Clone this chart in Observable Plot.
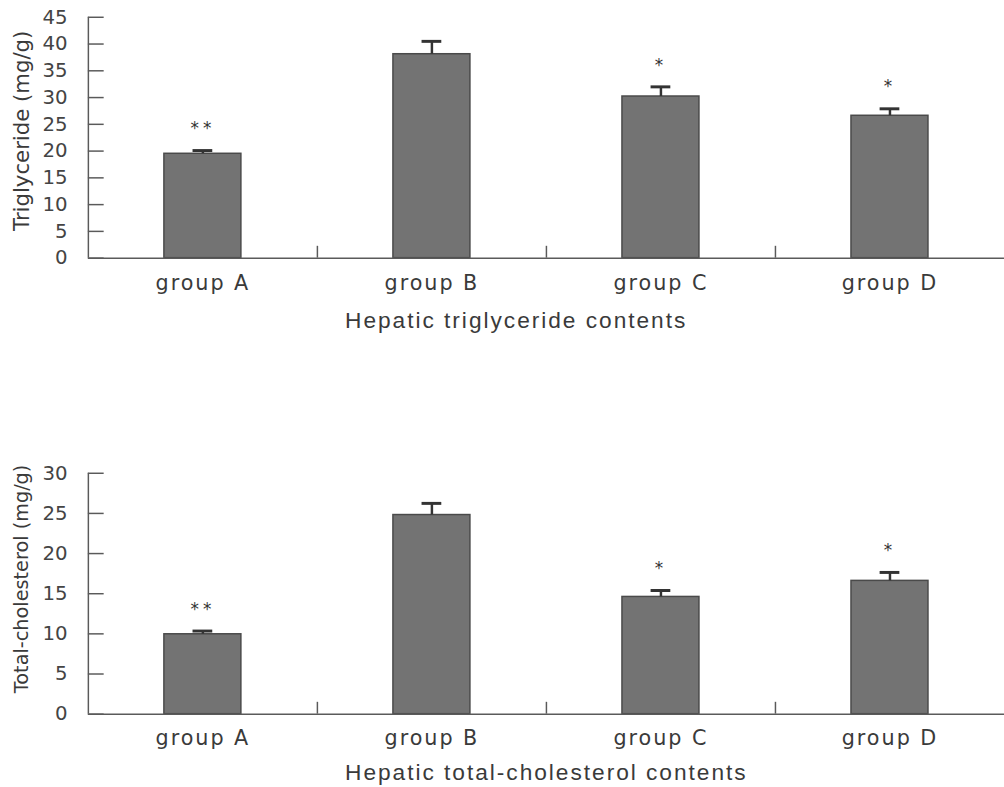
<!DOCTYPE html>
<html>
<head>
<meta charset="utf-8">
<script src="https://cdn.jsdelivr.net/npm/d3@7"></script>
<script src="https://cdn.jsdelivr.net/npm/@observablehq/plot@0.6"></script>
<style>
  html, body { margin: 0; padding: 0; background: #ffffff; overflow: hidden; }
  #wrap { position: relative; width: 1004px; height: 787px; overflow: hidden; }
  .panel { position: absolute; left: 0; }
  .ttl text, text.ttl, .ttl { letter-spacing: 2px; }
  .sig text, text.sig, .sig { letter-spacing: 4px; }
  g[aria-label="x-axis tick label"] text { letter-spacing: 2px; }
</style>
</head>
<body>
<div id="wrap">
  <div class="panel" id="top" style="top:0px"></div>
  <div class="panel" id="bottom" style="top:456px"></div>
</div>
<script>
// ---- data ----
const groups = ["group A", "group B", "group C", "group D"];

const tgMean = [19.5, 38.1, 30.2, 26.6];
const tgErr  = [0.6, 2.4, 1.8, 1.3];
const tgSig  = ["**", "", "*", "*"];
const tgTicks = [0, 5, 10, 15, 20, 25, 30, 35, 40, 45];

const tcMean = [9.95, 24.8, 14.6, 16.6];
const tcErr  = [0.4, 1.45, 0.8, 1.05];
const tcSig  = ["**", "", "*", "*"];
const tcTicks = [0, 5, 10, 15, 20, 25, 30];

const tgYLabel = "Triglyceride (mg/g)";
const tcYLabel = "Total-cholesterol (mg/g)";
const tgTitle = "Hepatic triglyceride contents";
const tcTitle = "Hepatic total-cholesterol contents";

// ---- layout ----
const W = 1017, ML = 89, MR = 0, MT = 17, PH = 244;
const plotW = W - ML - MR;
const step = plotW / groups.length;
const ink = "#3a3a3a", axisInk = "#5a5a5a";

function chart({mean, err, sig, ticks, ylabel, ylabelSize, ylabelDy, title, titleDy, labelPad, height}) {
  const rows = groups.map((g, i) => ({g, m: mean[i], e: err[i], top: mean[i] + err[i], s: sig[i]}));
  const ymax = ticks[ticks.length - 1];
  return Plot.plot({
    width: W, height,
    marginLeft: ML, marginRight: MR, marginTop: MT, marginBottom: height - MT - PH,
    style: {fontFamily: "DejaVu Sans, sans-serif", fontSize: "20px", background: "transparent", color: ink, overflow: "visible"},
    x: {type: "band", domain: groups, paddingInner: 0.664, paddingOuter: 0.332, align: 0.5, label: null},
    y: {domain: [0, ymax], label: null},
    marks: [
      // bars
      Plot.barY(rows, {x: "g", y: "m", fill: "#737373", stroke: "#4a4a4a", strokeWidth: 1.5}),
      // error bars
      Plot.ruleX(rows, {x: "g", y1: "m", y2: "top", stroke: "#333", strokeWidth: 2.5}),
      Plot.tickY(rows, {x: "g", y: "top", stroke: "#333", strokeWidth: 3, insetLeft: 29, insetRight: 29}),
      // significance stars
      Plot.text(rows, {x: "g", y: "top", text: "s", dy: -22, fontSize: 17, fill: "#333", fontFamily: "DejaVu Sans", className: "sig"}),
      // y axis line
      Plot.tickX([groups[0]], {x: d => d, dx: -step / 2, stroke: axisInk, strokeWidth: 1.5}),
      // y ticks (inward)
      Plot.tickY(ticks, {y: d => d, insetRight: plotW - 16, stroke: axisInk, strokeWidth: 1.5}),
      Plot.axisY({ticks, tickSize: 0, tickPadding: 21, fontSize: 20, color: "#444", label: null}),
      // x axis line
      Plot.ruleY([0], {stroke: axisInk, strokeWidth: 1.5}),
      // band boundary ticks
      Plot.tickX(groups.slice(1), {x: d => d, dx: -step / 2, insetTop: PH - 12, stroke: axisInk, strokeWidth: 1.5}),
      Plot.axisX({tickSize: 0, tickPadding: labelPad, fontSize: 21, color: ink, label: null}),
      // y label
      Plot.text([ylabel], {frameAnchor: "left", textAnchor: "middle", lineAnchor: "middle", rotate: -90, dx: -67, dy: ylabelDy, fontSize: ylabelSize, fill: ink}),
      // title
      Plot.text([title], {frameAnchor: "bottom-left", textAnchor: "start", lineAnchor: "middle", dx: 260, dy: titleDy, fontSize: 23, fill: ink, fontFamily: "Liberation Sans, Arial, sans-serif", className: "ttl"})
    ]
  });
}

document.getElementById("top").append(chart({
  mean: tgMean, err: tgErr, sig: tgSig, ticks: tgTicks,
  ylabel: tgYLabel, ylabelSize: 21.5, ylabelDy: -7, title: tgTitle, titleDy: 63, labelPad: 17, height: 340
}));
document.getElementById("bottom").append(chart({
  mean: tcMean, err: tcErr, sig: tcSig, ticks: tcTicks,
  ylabel: tcYLabel, ylabelSize: 19.5, ylabelDy: -15, title: tcTitle, titleDy: 59, labelPad: 16, height: 331
}));
</script>
</body>
</html>
